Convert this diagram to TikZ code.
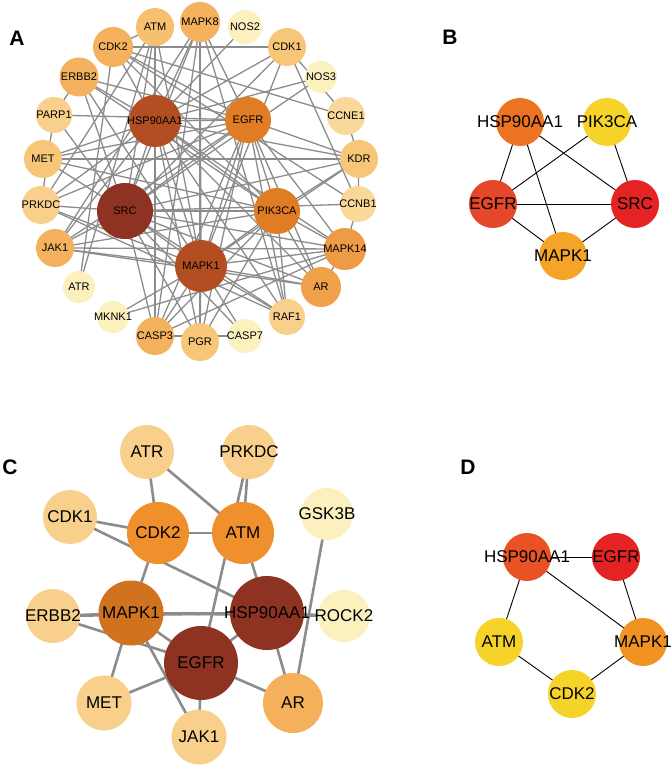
\documentclass[tikz,border=0pt]{standalone}
\usepackage{fontspec}
\setmainfont{Liberation Sans}
\pgfdeclarelayer{bg}
\pgfdeclarelayer{edges}
\pgfsetlayers{bg,edges,main}
\newcommand{\ntx}[1]{\makebox[0pt][c]{#1}}
% panel A colours
\definecolor{cSRC}{HTML}{8E3322}
\definecolor{cHUB}{HTML}{B34E22}
\definecolor{cEG}{HTML}{E07D24}
\definecolor{cM14}{HTML}{EE9B45}
\definecolor{cAR}{HTML}{F0A24B}
\definecolor{cMID}{HTML}{F4B25E}
\definecolor{cATM}{HTML}{F7C070}
\definecolor{cLT}{HTML}{F7C678}
\definecolor{cLT2}{HTML}{F8D08C}
\definecolor{cLT3}{HTML}{F9D89A}
\definecolor{cPALE}{HTML}{FBF0BE}
% panel B/D colours
\definecolor{bOr}{HTML}{EC7323}
\definecolor{bYe}{HTML}{F5D328}
\definecolor{bRo}{HTML}{E5472A}
\definecolor{bRe}{HTML}{E52325}
\definecolor{bAm}{HTML}{F4A428}
\definecolor{dOr}{HTML}{E85225}
\definecolor{dMa}{HTML}{F09323}
% panel C colours
\definecolor{cDark}{HTML}{8E3322}
\definecolor{cMk}{HTML}{D1721F}
\definecolor{cOr}{HTML}{F0902C}
\definecolor{cArC}{HTML}{F4B05A}
\definecolor{cLgt}{HTML}{F8D08C}
\definecolor{edgegray}{HTML}{8C8C8C}
\tikzset{
  an/.style={circle, inner sep=0pt, font=\fontsize{11}{12}\selectfont},
  bn/.style={circle, inner sep=0pt, font=\fontsize{17}{19}\selectfont},
  ae/.style={draw=edgegray, line width=1.3pt},
  ce/.style={draw=edgegray, line width=2.6pt},
  be/.style={draw=black, line width=0.9pt},
  plabel/.style={font=\fontsize{21}{22}\selectfont\bfseries}
}
\begin{document}
\begin{tikzpicture}[x=1pt,y=-1pt]
\begin{pgfonlayer}{bg}
\fill[white] (0,0) rectangle (671,767);
\end{pgfonlayer}
\useasboundingbox (0,0) rectangle (671,767);
% ---------------- Panel A ----------------
\node[plabel] (labA) at (17,38) {A};
\node[an, minimum size=40pt, fill=cMID] (aMAPK8) at (200,22) {\ntx{MAPK8}};
\node[an, minimum size=38pt, fill=cATM] (aATM) at (155,27) {\ntx{ATM}};
\node[an, minimum size=34pt, fill=cPALE] (aNOS2) at (245,27) {\ntx{NOS2}};
\node[an, minimum size=40pt, fill=cMID] (aCDK2) at (113,47) {\ntx{CDK2}};
\node[an, minimum size=38pt, fill=cLT] (aCDK1) at (287,47) {\ntx{CDK1}};
\node[an, minimum size=39pt, fill=cMID] (aERBB2) at (79,77) {\ntx{ERBB2}};
\node[an, minimum size=32pt, fill=cPALE] (aNOS3) at (321,77) {\ntx{NOS3}};
\node[an, minimum size=36pt, fill=cLT2] (aPARP1) at (54,115) {\ntx{PARP1}};
\node[an, minimum size=52pt, fill=cHUB] (aHSP) at (155,121) {\ntx{HSP90AA1}};
\node[an, minimum size=46pt, fill=cEG] (aEGFR) at (248,120) {\ntx{EGFR}};
\node[an, minimum size=38pt, fill=cLT3] (aCCNE1) at (346,116) {\ntx{CCNE1}};
\node[an, minimum size=38pt, fill=cLT] (aMET) at (43,159) {\ntx{MET}};
\node[an, minimum size=38pt, fill=cLT] (aKDR) at (359,159) {\ntx{KDR}};
\node[an, minimum size=38pt, fill=cLT2] (aPRKDC) at (41,205) {\ntx{PRKDC}};
\node[an, minimum size=56pt, fill=cSRC] (aSRC) at (125,211) {\ntx{SRC}};
\node[an, minimum size=46pt, fill=cEG] (aPIK3CA) at (277,211) {\ntx{PIK3CA}};
\node[an, minimum size=36pt, fill=cLT3] (aCCNB1) at (358,204) {\ntx{CCNB1}};
\node[an, minimum size=38pt, fill=cMID] (aJAK1) at (55,248) {\ntx{JAK1}};
\node[an, minimum size=42pt, fill=cM14] (aMAPK14) at (345,249) {\ntx{MAPK14}};
\node[an, minimum size=52pt, fill=cHUB] (aMAPK1) at (201,266) {\ntx{MAPK1}};
\node[an, minimum size=32pt, fill=cPALE] (aATR) at (79,287) {\ntx{ATR}};
\node[an, minimum size=40pt, fill=cAR] (aAR) at (321,287) {\ntx{AR}};
\node[an, minimum size=32pt, fill=cPALE] (aMKNK1) at (113,317) {\ntx{MKNK1}};
\node[an, minimum size=36pt, fill=cLT2] (aRAF1) at (287,317) {\ntx{RAF1}};
\node[an, minimum size=38pt, fill=cMID] (aCASP3) at (155,336) {\ntx{CASP3}};
\node[an, minimum size=38pt, fill=cLT] (aPGR) at (200,342) {\ntx{PGR}};
\node[an, minimum size=34pt, fill=cPALE] (aCASP7) at (245,336) {\ntx{CASP7}};
\begin{pgfonlayer}{edges}
\foreach \u/\v in {SRC/HSP, SRC/EGFR, SRC/PIK3CA, SRC/MAPK1, SRC/MAPK14, SRC/AR, SRC/RAF1, SRC/PGR, SRC/CASP3, SRC/CASP7, SRC/JAK1, SRC/PRKDC, SRC/MET, SRC/ERBB2, SRC/MAPK8, SRC/KDR, SRC/CDK1, SRC/NOS3, SRC/CCNB1, SRC/PARP1, SRC/ATM,
  HSP/EGFR, HSP/MAPK1, HSP/PIK3CA, HSP/ERBB2, HSP/CDK2, HSP/ATM, HSP/MAPK8, HSP/MET, HSP/JAK1, HSP/AR, HSP/RAF1, HSP/PGR, HSP/CASP3, HSP/NOS3, HSP/NOS2, HSP/KDR, HSP/MAPK14, HSP/CDK1, HSP/PRKDC,
  EGFR/MAPK1, EGFR/PIK3CA, EGFR/ERBB2, EGFR/MET, EGFR/JAK1, EGFR/PRKDC, EGFR/KDR, EGFR/MAPK14, EGFR/AR, EGFR/RAF1, EGFR/PGR, EGFR/CASP3, EGFR/MAPK8, EGFR/CDK2, EGFR/PARP1,
  MAPK1/PIK3CA, MAPK1/MAPK8, MAPK1/MAPK14, MAPK1/AR, MAPK1/RAF1, MAPK1/PGR, MAPK1/CASP3, MAPK1/CASP7, MAPK1/MKNK1, MAPK1/JAK1, MAPK1/PRKDC, MAPK1/ERBB2, MAPK1/CDK1, MAPK1/ATM, MAPK1/KDR,
  PIK3CA/ERBB2, PIK3CA/MET, PIK3CA/JAK1, PIK3CA/KDR, PIK3CA/MAPK14, PIK3CA/AR, PIK3CA/RAF1, PIK3CA/CASP3, PIK3CA/PGR, PIK3CA/CDK2,
  CDK2/CDK1, CDK2/CCNE1, CDK2/ATM, CDK2/ATR, CDK2/CCNB1, CDK1/CCNB1, CDK1/CCNE1, CCNE1/KDR, KDR/CCNB1, CCNB1/MAPK14, MAPK14/AR, JAK1/MAPK14, MKNK1/MAPK14, CASP3/MAPK14, CASP3/CASP7, ATM/PRKDC, ATM/ATR, ERBB2/PARP1, PARP1/PRKDC, MAPK8/JAK1, MAPK8/CASP3, MAPK8/RAF1, MAPK8/PGR, JAK1/AR, PRKDC/RAF1, MET/KDR}
  \draw[ae] (a\u.center) -- (a\v.center);
\end{pgfonlayer}
% ---------------- Panel B ----------------
\node[plabel] (labB) at (450,37) {B};
\node[bn, minimum size=48pt, fill=bOr] (bHSP) at (520,122) {\ntx{HSP90AA1}};
\node[bn, minimum size=48pt, fill=bYe] (bPIK) at (607,122) {\ntx{PIK3CA}};
\node[bn, minimum size=48pt, fill=bRo] (bEGFR) at (493,204) {\ntx{EGFR}};
\node[bn, minimum size=48pt, fill=bRe] (bSRC) at (635,204) {\ntx{SRC}};
\node[bn, minimum size=48pt, fill=bAm] (bMAPK1) at (563,256) {\ntx{MAPK1}};
\begin{pgfonlayer}{edges}
\foreach \u/\v in {HSP/EGFR, HSP/MAPK1, HSP/SRC, PIK/EGFR, PIK/SRC, EGFR/SRC, EGFR/MAPK1, SRC/MAPK1}
  \draw[be] (b\u.center) -- (b\v.center);
\end{pgfonlayer}
% ---------------- Panel C ----------------
\node[plabel] (labC) at (10,467) {C};
\node[bn, minimum size=54pt, fill=cLgt] (cATR) at (147,452) {\ntx{ATR}};
\node[bn, minimum size=54pt, fill=cLgt] (cPRKDC) at (249,452) {\ntx{PRKDC}};
\node[bn, minimum size=54pt, fill=cLgt] (cCDK1) at (70,517) {\ntx{CDK1}};
\node[bn, minimum size=62pt, fill=cOr] (cCDK2) at (158,533) {\ntx{CDK2}};
\node[bn, minimum size=62pt, fill=cOr] (cATM) at (243,533) {\ntx{ATM}};
\node[bn, minimum size=52pt, fill=cPALE] (cGSK3B) at (327,514) {\ntx{GSK3B}};
\node[bn, minimum size=54pt, fill=cLgt] (cERBB2) at (53,616) {\ntx{ERBB2}};
\node[bn, minimum size=65pt, fill=cMk] (cMAPK1) at (131,613) {\ntx{MAPK1}};
\node[bn, minimum size=74pt, fill=cDark] (cHSP) at (267,613) {\ntx{HSP90AA1}};
\node[bn, minimum size=52pt, fill=cPALE] (cROCK2) at (344,616) {\ntx{ROCK2}};
\node[bn, minimum size=74pt, fill=cDark] (cEGFR) at (201,663) {\ntx{EGFR}};
\node[bn, minimum size=55pt, fill=cLgt] (cMET) at (104,703) {\ntx{MET}};
\node[bn, minimum size=60pt, fill=cArC] (cAR) at (293,703) {\ntx{AR}};
\node[bn, minimum size=55pt, fill=cLgt] (cJAK1) at (199,737) {\ntx{JAK1}};
\begin{pgfonlayer}{edges}
\foreach \u/\v in {ATR/CDK2, ATR/ATM, PRKDC/ATM, PRKDC/EGFR, CDK1/CDK2, CDK1/HSP, CDK2/ATM, CDK2/MAPK1, ATM/HSP, GSK3B/AR,
  ERBB2/MAPK1, ERBB2/HSP, MAPK1/HSP, MAPK1/ROCK2, HSP/ROCK2, MAPK1/EGFR, MAPK1/MET, MAPK1/JAK1, ERBB2/EGFR, EGFR/HSP, EGFR/MET, EGFR/JAK1, EGFR/AR, HSP/AR}
  \draw[ce] (c\u.center) -- (c\v.center);
\end{pgfonlayer}
% ---------------- Panel D ----------------
\node[plabel] (labD) at (468,467) {D};
\node[bn, minimum size=48pt, fill=dOr] (dHSP) at (527,557) {\ntx{HSP90AA1}};
\node[bn, minimum size=48pt, fill=bRe] (dEGFR) at (616,557) {\ntx{EGFR}};
\node[bn, minimum size=48pt, fill=bYe] (dATM) at (499,642) {\ntx{ATM}};
\node[bn, minimum size=48pt, fill=dMa] (dMAPK1) at (643,642) {\ntx{MAPK1}};
\node[bn, minimum size=48pt, fill=bYe] (dCDK2) at (572,694) {\ntx{CDK2}};
\begin{pgfonlayer}{edges}
\foreach \u/\v in {HSP/EGFR, HSP/ATM, HSP/MAPK1, EGFR/MAPK1, ATM/CDK2, CDK2/MAPK1}
  \draw[be] (d\u.center) -- (d\v.center);
\end{pgfonlayer}
\end{tikzpicture}
\end{document}
